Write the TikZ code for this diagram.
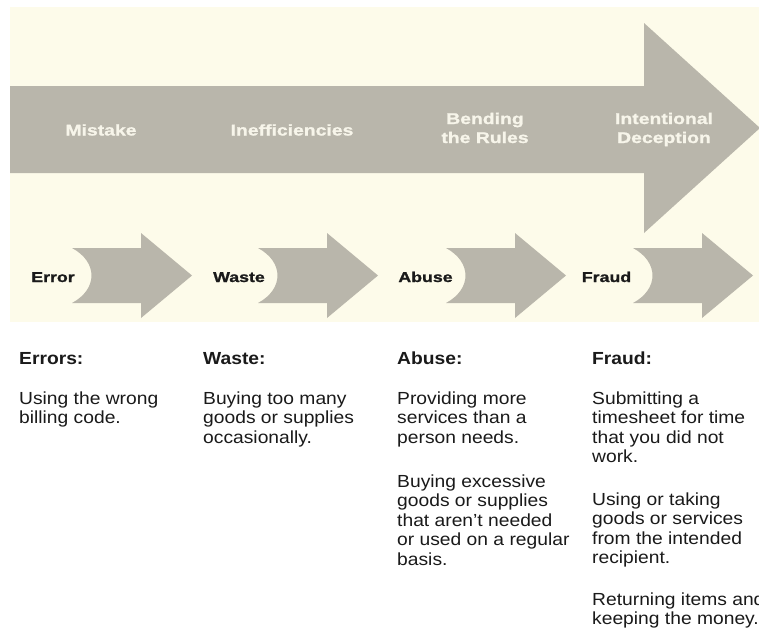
\documentclass[tikz,border=0pt]{standalone}
\usepackage{fontspec}
\setmainfont{Liberation Sans}
\newfontfamily\bodyfont[FakeStretch=1.1]{Liberation Sans}
\newfontfamily\heavyfont[FakeStretch=1.25, FakeBold=1.2]{Liberation Sans}
\definecolor{cream}{HTML}{FDFBEA}
\definecolor{arrowgray}{HTML}{B9B6AB}
\definecolor{arrowtext}{HTML}{F7F5EA}
\definecolor{textdark}{HTML}{1A1A1A}
\tikzset{
  bigarrowtext/.style={text=arrowtext, align=center, inner sep=0pt, anchor=base,
    font=\heavyfont\bfseries\fontsize{15.5}{19}\selectfont},
  smalllabel/.style={text=textdark, inner sep=0pt, anchor=base,
    font=\heavyfont\bfseries\fontsize{14.2}{17}\selectfont},
  colhead/.style={text=textdark, anchor=base west, inner sep=0pt,
    font=\bodyfont\bfseries\fontsize{17.5}{19.5}\selectfont},
  colbody/.style={text=textdark, anchor=base west, inner sep=0pt, align=left,
    font=\bodyfont\fontsize{17.5}{19.5}\selectfont}
}
% small arrow whose left corners are at x = #1
\newcommand{\smallarrow}[1]{%
  \fill[arrowgray] (#1,248) -- ++(69,0) -- ++(0,-15) -- ++(51,42.5) -- ++(-51,42.5)
    -- ++(0,-15) -- (#1,303) .. controls ++(26,-14) and ++(26,14) .. (#1,248) -- cycle;}
\begin{document}
\begin{tikzpicture}[x=1pt,y=-1pt]
\path[use as bounding box, clip] (0,0) rectangle (759,633);
\fill[white] (0,0) rectangle (759,633);
\fill[cream] (10,7) rectangle (759,322);
% big arrow
\fill[arrowgray] (10,86) -- (644,86) -- (644,23) -- (760,128) -- (644,233) -- (644,173) -- (10,173) -- cycle;
\node[bigarrowtext] (mistake) at (101,135.5) {Mistake};
\node[bigarrowtext] (ineff) at (292,135.5) {Inefficiencies};
\node[bigarrowtext] (bending) at (485,143) {Bending\\the Rules};
\node[bigarrowtext] (intent) at (664,143) {Intentional\\Deception};
% small arrows
\smallarrow{72}
\smallarrow{258}
\smallarrow{446}
\smallarrow{633}
\node[smalllabel] (error) at (53,282) {Error};
\node[smalllabel] (waste) at (239,282) {Waste};
\node[smalllabel] (abuse) at (425.5,282) {Abuse};
\node[smalllabel] (fraud) at (606.5,282) {Fraud};
% columns (base anchor = baseline of the last line)
\node[colhead] (hErrors) at (19,364) {Errors:};
\node[colhead] (hWaste) at (203,364) {Waste:};
\node[colhead] (hAbuse) at (397,364) {Abuse:};
\node[colhead] (hFraud) at (592,364) {Fraud:};
\node[colbody] (tErrors) at (19,423.5) {Using the wrong\\billing code.};
\node[colbody] (tWaste) at (203,443) {Buying too many\\goods or supplies\\occasionally.};
\node[colbody] (tAbuse1) at (397,443) {Providing more\\services than a\\person needs.};
\node[colbody] (tAbuse2) at (397,565) {Buying excessive\\goods or supplies\\that aren’t needed\\or used on a regular\\basis.};
\node[colbody] (tFraud1) at (592,462.5) {Submitting a\\timesheet for time\\that you did not\\work.};
\node[colbody] (tFraud2) at (592,563.5) {Using or taking\\goods or services\\from the intended\\recipient.};
\node[colbody] (tFraud3) at (592,624.5) {Returning items and\\keeping the money.};
\end{tikzpicture}
\end{document}
